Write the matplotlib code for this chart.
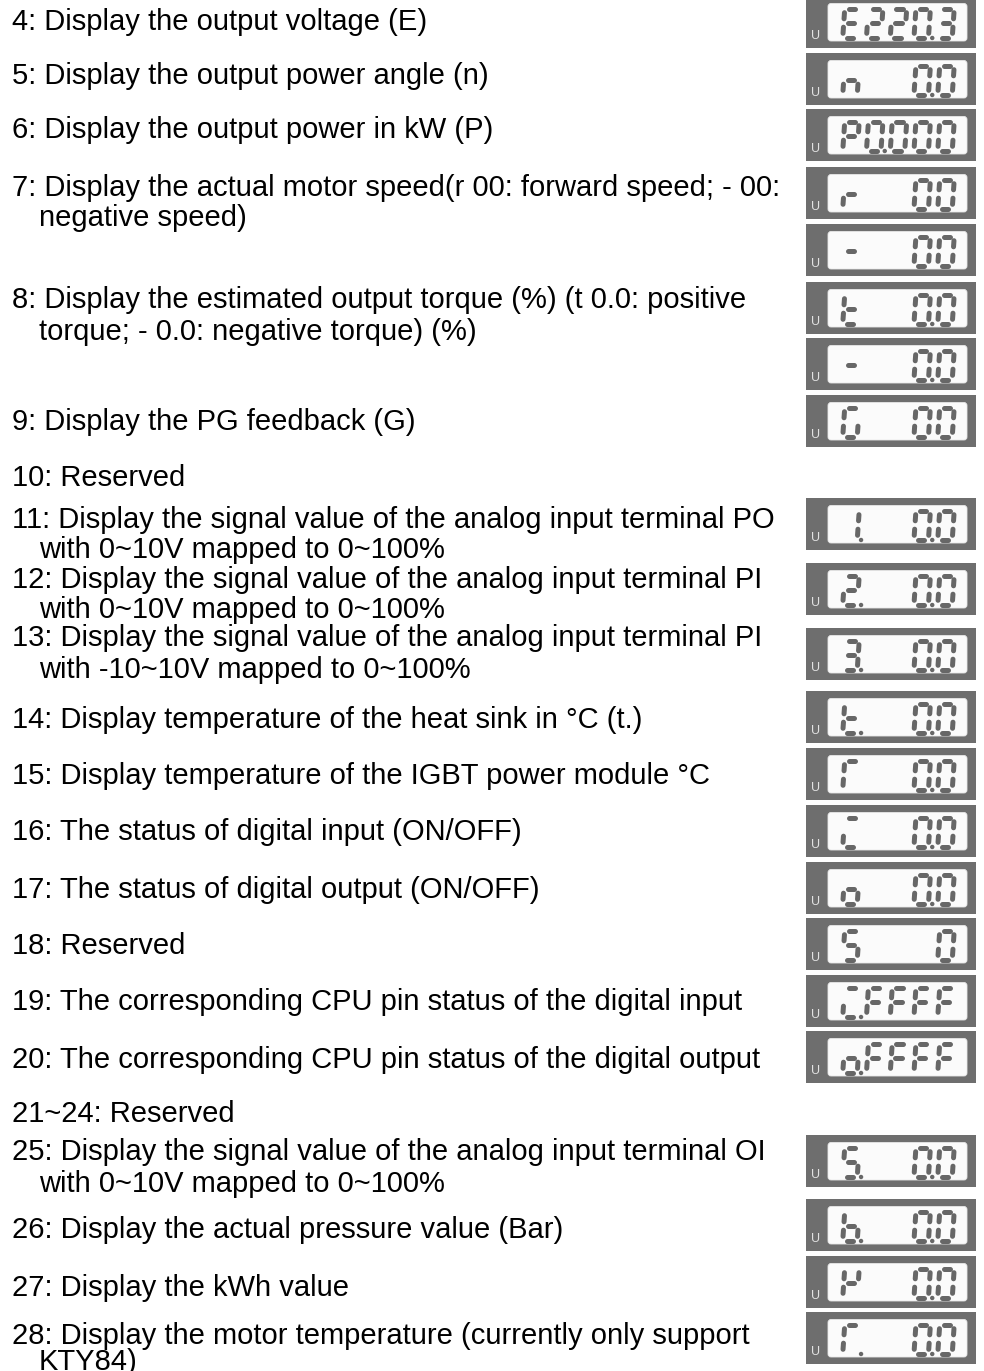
#!/usr/bin/env python3

# monitor parameter list with the 7-segment panel readings beside it

import matplotlib
matplotlib.use("Agg")
import matplotlib.pyplot as plt
from matplotlib.patches import Rectangle, FancyBboxPatch

# text of the left column (one entry per item, one string per line)
descriptions = [
    ["4: Display the output voltage (E)"],
    ["5: Display the output power angle (n)"],
    ["6: Display the output power in kW (P)"],
    ["7: Display the actual motor speed(r 00: forward speed; - 00:", "negative speed)"],
    ["8: Display the estimated output torque (%) (t 0.0: positive", "torque; - 0.0: negative torque) (%)"],
    ["9: Display the PG feedback (G)"],
    ["10: Reserved"],
    ["11: Display the signal value of the analog input terminal PO", "with 0~10V mapped to 0~100%"],
    ["12: Display the signal value of the analog input terminal PI", "with 0~10V mapped to 0~100%"],
    ["13: Display the signal value of the analog input terminal PI", "with -10~10V mapped to 0~100%"],
    ["14: Display temperature of the heat sink in \u00b0C (t.)"],
    ["15: Display temperature of the IGBT power module \u00b0C"],
    ["16: The status of digital input (ON/OFF)"],
    ["17: The status of digital output (ON/OFF)"],
    ["18: Reserved"],
    ["19: The corresponding CPU pin status of the digital input"],
    ["20: The corresponding CPU pin status of the digital output"],
    ["21~24: Reserved"],
    ["25: Display the signal value of the analog input terminal OI", "with 0~10V mapped to 0~100%"],
    ["26: Display the actual pressure value (Bar)"],
    ["27: Display the kWh value"],
    ["28: Display the motor temperature (currently only support", "KTY84)"],
]

# panel readings, 5 cells each, '.' = decimal point of previous cell
# i = top+bottom+lower-left, R = top+left, Y = upper sides+middle+lower-left
displays = [
    "E220.3", "n  0.0", "P0.000", "r  00", "-  00", "t  0.0", "-  0.0", "G  00",
    "1.  0.0", "2.  0.0", "3.  0.0", "t.  0.0", "R  0.0", "i  0.0", "o  0.0",
    "S   0", "i.FFFF", "o.FFFF", "S.  0.0", "b.  0.0", "Y  0.0", "R.  0.0",
]

# layout (pixels from the top)
text_y = [20, 73, 128, 185, 298, 420, 475, 517, 577, 636, 718, 773, 830, 887,
          943, 1000, 1057, 1112, 1150, 1228, 1285, 1333]
line_gap = [31] * 21 + [26]
box_top = [-4, 53, 109, 167, 224, 282, 338, 395, 498, 563, 628, 691, 748, 805,
           862, 918, 975, 1031, 1135, 1199, 1256, 1312]

SEGS = {'0': 'abcdef', '1': 'bc', '2': 'abged', '3': 'abgcd', 'E': 'afged',
        'P': 'abfge', 'F': 'afge', 'S': 'afgcd', 'G': 'afedc', 'b': 'fedcg',
        'n': 'ceg', 'r': 'eg', 't': 'fegd', 'o': 'cdeg', '-': 'g', 'i': 'aed',
        'R': 'afe', 'Y': 'fbge', ' ': ''}
SEG_POS = {'a': ((0, 0), (1, 0)), 'b': ((1, 0), (1, .5)), 'c': ((1, .5), (1, 1)),
           'd': ((0, 1), (1, 1)), 'e': ((0, .5), (0, 1)), 'f': ((0, 0), (0, .5)),
           'g': ((0, .5), (1, .5))}

SEG_COLOR = "#676767"
BOX_COLOR = "#6e6e6e"


def parse(s):
    cells = []
    for ch in s:
        if ch == '.':
            cells[-1][1] = True
        else:
            cells.append([ch, False])
    return cells


def draw_digit(ax, ch, dp, cx, top):
    w, h = 14.5, 29.0
    y0 = top + 12.5
    slant = 2.0 / h
    gap = 4.2
    for seg in SEGS[ch]:
        (u1, v1), (u2, v2) = SEG_POS[seg]
        x1 = cx - w / 2 + u1 * w + slant * h * (1 - v1)
        y1 = y0 + v1 * h
        x2 = cx - w / 2 + u2 * w + slant * h * (1 - v2)
        y2 = y0 + v2 * h
        L = ((x2 - x1) ** 2 + (y2 - y1) ** 2) ** 0.5
        dx, dy = (x2 - x1) / L * gap, (y2 - y1) / L * gap
        ax.plot([x1 + dx, x2 - dx], [y1 + dy, y2 - dy], color=SEG_COLOR,
                lw=3.6, solid_capstyle="round")
    if dp:
        ax.add_patch(plt.Circle((cx + w / 2 + 3.8, y0 + h + 0.5), 1.5, color=SEG_COLOR))


def main():
    fig = plt.figure(figsize=(9.84, 13.71), dpi=100, facecolor="white")
    ax = fig.add_axes([0, 0, 1, 1])
    ax.set_xlim(0, 984)
    ax.set_ylim(1371, 0)
    ax.axis("off")

    # left column text
    for lines, y, gap in zip(descriptions, text_y, line_gap):
        for k, line in enumerate(lines):
            x = 12 if k == 0 else 39
            ax.text(x, y + k * gap + 10.5, line, fontsize=21,
                    family="Liberation Sans", va="baseline", ha="left", color="black")

    # display panels
    centers = [850, 873.7, 897.5, 921.2, 945]
    for s, top in zip(displays, box_top):
        ax.add_patch(Rectangle((806, top), 170, 52, color=BOX_COLOR, lw=0))
        ax.add_patch(FancyBboxPatch((828, top + 7.5), 139, 37.5,
                                    boxstyle="round,pad=0,rounding_size=3",
                                    fc="#fbfbfb", ec="#e8e8e8", lw=0.6))
        ax.text(815.5, top + 43, "U", fontsize=9, family="Liberation Sans",
                color="#e2e2e2", ha="center", va="baseline")
        for (ch, dp), cx in zip(parse(s), centers):
            draw_digit(ax, ch, dp, cx, top)

    fig.savefig("out.png", dpi=100, facecolor="white")
#end main

if __name__ == "__main__":
    main()
